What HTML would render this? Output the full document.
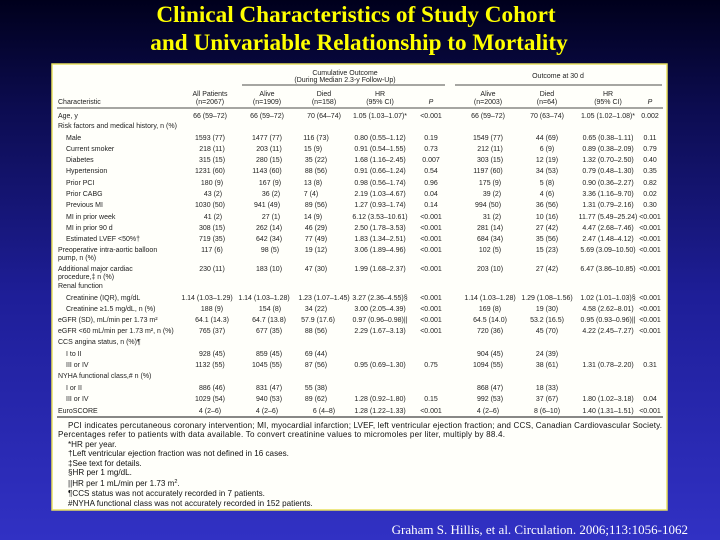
<!DOCTYPE html>
<html><head><meta charset="utf-8"><style>
html,body{margin:0;padding:0}
body{width:720px;height:540px;overflow:hidden;background:linear-gradient(180deg,#00001c 0%,#0c0c50 20%,#1e1e98 55%,#3131c4 100%);position:relative}
svg{position:absolute;left:0;top:0}
</style></head><body>
<svg width="720" height="540" viewBox="0 0 720 540" xmlns="http://www.w3.org/2000/svg">
<g font-family="Liberation Serif, serif" font-weight="bold" font-size="23.2" fill="#ffff00" text-anchor="middle">
<text x="356" y="22">Clinical Characteristics of Study Cohort</text>
<text x="359" y="50">and Univariable Relationship to Mortality</text>
</g>
<rect x="52" y="64" width="615" height="446" fill="#fffffa" stroke="#e8e060" stroke-width="1.5"/>
<g stroke="#111" stroke-width="0.8">
<line x1="242" y1="85" x2="445" y2="85"/>
<line x1="455" y1="85" x2="662" y2="85"/>
<line x1="57" y1="108" x2="663" y2="108"/>
<line x1="57" y1="417" x2="663" y2="417" stroke-width="1.1"/>
</g>
<g font-family="Liberation Sans, sans-serif" font-size="7" fill="#222">
<text text-anchor="middle"><tspan x="345" y="75">Cumulative Outcome</tspan><tspan x="345" y="82">(During Median 2.3-y Follow-Up)</tspan><tspan x="558" y="78">Outcome at 30 d</tspan></text>
<text text-anchor="middle"><tspan x="210" y="96">All Patients</tspan><tspan x="267" y="96">Alive</tspan><tspan x="324" y="96">Died</tspan><tspan x="380" y="96">HR</tspan><tspan x="488" y="96">Alive</tspan><tspan x="547" y="96">Died</tspan><tspan x="608" y="96">HR</tspan></text>
<text text-anchor="middle"><tspan x="210" y="104">(n=2067)</tspan><tspan x="267" y="104">(n=1909)</tspan><tspan x="324" y="104">(n=158)</tspan><tspan x="380" y="104">(95% CI)</tspan><tspan x="431" y="104" font-style="italic">P</tspan><tspan x="488" y="104">(n=2003)</tspan><tspan x="547" y="104">(n=64)</tspan><tspan x="608" y="104">(95% CI)</tspan><tspan x="650" y="104" font-style="italic">P</tspan></text>
<text x="58" y="104">Characteristic</text>

<text><tspan x="58" y="118">Age, y</tspan><tspan x="58" y="128">Risk factors and medical history, n (%)</tspan>
<tspan x="66" y="140">Male</tspan><tspan x="66" y="151">Current smoker</tspan><tspan x="66" y="162">Diabetes</tspan><tspan x="66" y="173">Hypertension</tspan><tspan x="66" y="185">Prior PCI</tspan><tspan x="66" y="196">Prior CABG</tspan><tspan x="66" y="207">Previous MI</tspan><tspan x="66" y="219">MI in prior week</tspan><tspan x="66" y="230">MI in prior 90 d</tspan><tspan x="66" y="241">Estimated LVEF &lt;50%†</tspan>
<tspan x="58" y="252">Preoperative intra-aortic balloon</tspan><tspan x="58" y="260">pump, n (%)</tspan><tspan x="58" y="271">Additional major cardiac</tspan><tspan x="58" y="279">procedure,‡ n (%)</tspan><tspan x="58" y="288">Renal function</tspan>
<tspan x="66" y="300">Creatinine (IQR), mg/dL</tspan><tspan x="66" y="311">Creatinine ≥1.5 mg/dL, n (%)</tspan>
<tspan x="58" y="322">eGFR (SD), mL/min per 1.73 m²</tspan><tspan x="58" y="333">eGFR &lt;60 mL/min per 1.73 m², n (%)</tspan><tspan x="58" y="344">CCS angina status, n (%)¶</tspan>
<tspan x="66" y="356">I to II</tspan><tspan x="66" y="367">III or IV</tspan><tspan x="58" y="378">NYHA functional class,# n (%)</tspan><tspan x="66" y="390">I or II</tspan><tspan x="66" y="401">III or IV</tspan><tspan x="58" y="413">EuroSCORE</tspan></text>

<g text-anchor="middle">
<text y="118"><tspan x="210">66 (59–72)</tspan><tspan x="267">66 (59–72)</tspan><tspan x="324">70 (64–74)</tspan><tspan x="380">1.05 (1.03–1.07)*</tspan><tspan x="431">&lt;0.001</tspan><tspan x="488">66 (59–72)</tspan><tspan x="547">70 (63–74)</tspan><tspan x="608">1.05 (1.02–1.08)*</tspan><tspan x="650">0.002</tspan></text>
<text y="140"><tspan x="210">1593 (77)</tspan><tspan x="267">1477 (77)</tspan><tspan x="316">116 (73)</tspan><tspan x="380">0.80 (0.55–1.12)</tspan><tspan x="431">0.19</tspan><tspan x="488">1549 (77)</tspan><tspan x="547">44 (69)</tspan><tspan x="608">0.65 (0.38–1.11)</tspan><tspan x="650">0.11</tspan></text>
<text y="151"><tspan x="212">218 (11)</tspan><tspan x="269">203 (11)</tspan><tspan x="313">15 (9)</tspan><tspan x="380">0.91 (0.54–1.55)</tspan><tspan x="431">0.73</tspan><tspan x="490">212 (11)</tspan><tspan x="547">6 (9)</tspan><tspan x="608">0.89 (0.38–2.09)</tspan><tspan x="650">0.79</tspan></text>
<text y="162"><tspan x="212">315 (15)</tspan><tspan x="269">280 (15)</tspan><tspan x="316">35 (22)</tspan><tspan x="380">1.68 (1.16–2.45)</tspan><tspan x="431">0.007</tspan><tspan x="490">303 (15)</tspan><tspan x="547">12 (19)</tspan><tspan x="608">1.32 (0.70–2.50)</tspan><tspan x="650">0.40</tspan></text>
<text y="173"><tspan x="210">1231 (60)</tspan><tspan x="267">1143 (60)</tspan><tspan x="316">88 (56)</tspan><tspan x="380">0.91 (0.66–1.24)</tspan><tspan x="431">0.54</tspan><tspan x="488">1197 (60)</tspan><tspan x="547">34 (53)</tspan><tspan x="608">0.79 (0.48–1.30)</tspan><tspan x="650">0.35</tspan></text>
<text y="185"><tspan x="212">180 (9)</tspan><tspan x="270">167 (9)</tspan><tspan x="313">13 (8)</tspan><tspan x="380">0.98 (0.56–1.74)</tspan><tspan x="431">0.96</tspan><tspan x="490">175 (9)</tspan><tspan x="547">5 (8)</tspan><tspan x="608">0.90 (0.36–2.27)</tspan><tspan x="650">0.82</tspan></text>
<text y="196"><tspan x="213">43 (2)</tspan><tspan x="271">36 (2)</tspan><tspan x="311">7 (4)</tspan><tspan x="380">2.19 (1.03–4.67)</tspan><tspan x="431">0.04</tspan><tspan x="492">39 (2)</tspan><tspan x="547">4 (6)</tspan><tspan x="608">3.36 (1.16–9.70)</tspan><tspan x="650">0.02</tspan></text>
<text y="207"><tspan x="210">1030 (50)</tspan><tspan x="267">941 (49)</tspan><tspan x="316">89 (56)</tspan><tspan x="380">1.27 (0.93–1.74)</tspan><tspan x="431">0.14</tspan><tspan x="488">994 (50)</tspan><tspan x="547">36 (56)</tspan><tspan x="608">1.31 (0.79–2.16)</tspan><tspan x="650">0.30</tspan></text>
<text y="219"><tspan x="213">41 (2)</tspan><tspan x="271">27 (1)</tspan><tspan x="313">14 (9)</tspan><tspan x="380">6.12 (3.53–10.61)</tspan><tspan x="431">&lt;0.001</tspan><tspan x="492">31 (2)</tspan><tspan x="547">10 (16)</tspan><tspan x="608">11.77 (5.49–25.24)</tspan><tspan x="650">&lt;0.001</tspan></text>
<text y="230"><tspan x="212">308 (15)</tspan><tspan x="269">262 (14)</tspan><tspan x="316">46 (29)</tspan><tspan x="380">2.50 (1.78–3.53)</tspan><tspan x="431">&lt;0.001</tspan><tspan x="490">281 (14)</tspan><tspan x="547">27 (42)</tspan><tspan x="608">4.47 (2.68–7.46)</tspan><tspan x="650">&lt;0.001</tspan></text>
<text y="241"><tspan x="212">719 (35)</tspan><tspan x="269">642 (34)</tspan><tspan x="316">77 (49)</tspan><tspan x="380">1.83 (1.34–2.51)</tspan><tspan x="431">&lt;0.001</tspan><tspan x="490">684 (34)</tspan><tspan x="547">35 (56)</tspan><tspan x="608">2.47 (1.48–4.12)</tspan><tspan x="650">&lt;0.001</tspan></text>
<text y="252"><tspan x="212">117 (6)</tspan><tspan x="270">98 (5)</tspan><tspan x="316">19 (12)</tspan><tspan x="380">3.06 (1.89–4.96)</tspan><tspan x="431">&lt;0.001</tspan><tspan x="490">102 (5)</tspan><tspan x="547">15 (23)</tspan><tspan x="608">5.69 (3.09–10.50)</tspan><tspan x="650">&lt;0.001</tspan></text>
<text y="271"><tspan x="212">230 (11)</tspan><tspan x="269">183 (10)</tspan><tspan x="316">47 (30)</tspan><tspan x="380">1.99 (1.68–2.37)</tspan><tspan x="431">&lt;0.001</tspan><tspan x="490">203 (10)</tspan><tspan x="547">27 (42)</tspan><tspan x="608">6.47 (3.86–10.85)</tspan><tspan x="650">&lt;0.001</tspan></text>
<text y="300"><tspan x="207">1.14 (1.03–1.29)</tspan><tspan x="264">1.14 (1.03–1.28)</tspan><tspan x="324">1.23 (1.07–1.45)</tspan><tspan x="380">3.27 (2.36–4.55)§</tspan><tspan x="431">&lt;0.001</tspan><tspan x="490">1.14 (1.03–1.28)</tspan><tspan x="547">1.29 (1.08–1.56)</tspan><tspan x="608">1.02 (1.01–1.03)§</tspan><tspan x="650">&lt;0.001</tspan></text>
<text y="311"><tspan x="212">188 (9)</tspan><tspan x="270">154 (8)</tspan><tspan x="316">34 (22)</tspan><tspan x="380">3.00 (2.05–4.39)</tspan><tspan x="431">&lt;0.001</tspan><tspan x="490">169 (8)</tspan><tspan x="547">19 (30)</tspan><tspan x="608">4.58 (2.62–8.01)</tspan><tspan x="650">&lt;0.001</tspan></text>
<text y="322"><tspan x="212">64.1 (14.3)</tspan><tspan x="269">64.7 (13.8)</tspan><tspan x="318">57.9 (17.6)</tspan><tspan x="380">0.97 (0.96–0.98)||</tspan><tspan x="431">&lt;0.001</tspan><tspan x="490">64.5 (14.0)</tspan><tspan x="547">53.2 (16.5)</tspan><tspan x="608">0.95 (0.93–0.96)||</tspan><tspan x="650">&lt;0.001</tspan></text>
<text y="333"><tspan x="212">765 (37)</tspan><tspan x="269">677 (35)</tspan><tspan x="316">88 (56)</tspan><tspan x="380">2.29 (1.67–3.13)</tspan><tspan x="431">&lt;0.001</tspan><tspan x="490">720 (36)</tspan><tspan x="547">45 (70)</tspan><tspan x="608">4.22 (2.45–7.27)</tspan><tspan x="650">&lt;0.001</tspan></text>
<text y="356"><tspan x="212">928 (45)</tspan><tspan x="269">859 (45)</tspan><tspan x="316">69 (44)</tspan><tspan x="490">904 (45)</tspan><tspan x="547">24 (39)</tspan></text>
<text y="367"><tspan x="210">1132 (55)</tspan><tspan x="267">1045 (55)</tspan><tspan x="316">87 (56)</tspan><tspan x="380">0.95 (0.69–1.30)</tspan><tspan x="431">0.75</tspan><tspan x="488">1094 (55)</tspan><tspan x="547">38 (61)</tspan><tspan x="608">1.31 (0.78–2.20)</tspan><tspan x="650">0.31</tspan></text>
<text y="390"><tspan x="212">886 (46)</tspan><tspan x="269">831 (47)</tspan><tspan x="316">55 (38)</tspan><tspan x="490">868 (47)</tspan><tspan x="547">18 (33)</tspan></text>
<text y="401"><tspan x="210">1029 (54)</tspan><tspan x="269">940 (53)</tspan><tspan x="316">89 (62)</tspan><tspan x="380">1.28 (0.92–1.80)</tspan><tspan x="431">0.15</tspan><tspan x="490">992 (53)</tspan><tspan x="547">37 (67)</tspan><tspan x="608">1.80 (1.02–3.18)</tspan><tspan x="650">0.04</tspan></text>
<text y="413"><tspan x="210">4 (2–6)</tspan><tspan x="267">4 (2–6)</tspan><tspan x="324">6 (4–8)</tspan><tspan x="380">1.28 (1.22–1.33)</tspan><tspan x="431">&lt;0.001</tspan><tspan x="488">4 (2–6)</tspan><tspan x="547">8 (6–10)</tspan><tspan x="608">1.40 (1.31–1.51)</tspan><tspan x="650">&lt;0.001</tspan></text>
</g>
</g>
<g font-family="Liberation Sans, sans-serif" font-size="8.1" fill="#111">
<text x="68" y="428" textLength="594" lengthAdjust="spacing">PCI indicates percutaneous coronary intervention; MI, myocardial infarction; LVEF, left ventricular ejection fraction; and CCS, Canadian Cardiovascular Society.</text>
<text x="58" y="437" textLength="447" lengthAdjust="spacing">Percentages refer to patients with data available. To convert creatinine values to micromoles per liter, multiply by 88.4.</text>
<text x="68" y="447">*HR per year.</text>
<text x="68" y="456">†Left ventricular ejection fraction was not defined in 16 cases.</text>
<text x="68" y="466">‡See text for details.</text>
<text x="68" y="475">§HR per 1 mg/dL.</text>
<text x="68" y="486">||HR per 1 mL/min per 1.73 m<tspan font-size="5.5" dy="-3">2</tspan><tspan dy="3">.</tspan></text>
<text x="68" y="496">¶CCS status was not accurately recorded in 7 patients.</text>
<text x="68" y="506">#NYHA functional class was not accurately recorded in 152 patients.</text>
</g>
<text x="688" y="534" text-anchor="end" font-family="Liberation Serif, serif" font-size="13" fill="#ffffff">Graham S. Hillis, et al. Circulation. 2006;113:1056-1062</text>
</svg>
</body></html>
